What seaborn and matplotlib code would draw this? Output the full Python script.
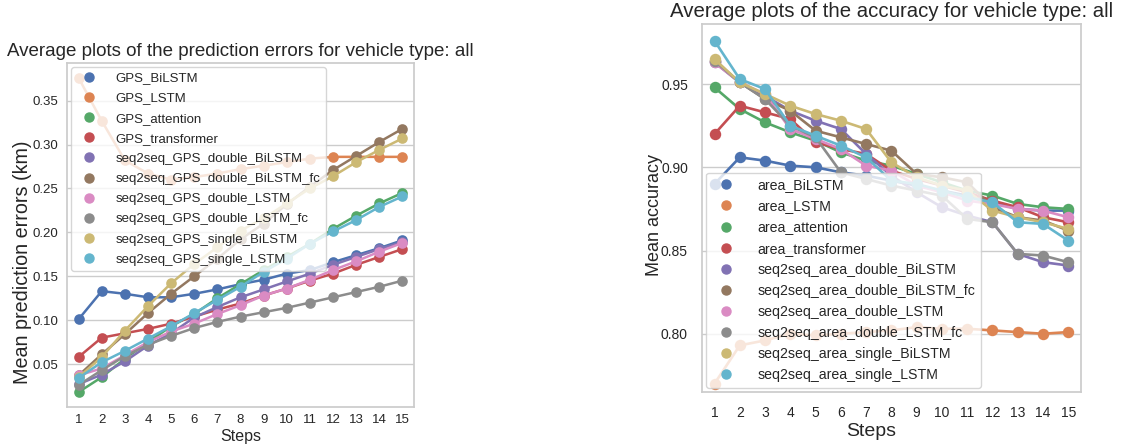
import numpy as np
import pandas as pd
import matplotlib
matplotlib.use("Agg")
import matplotlib.pyplot as plt
import seaborn as sns
from matplotlib.lines import Line2D

steps = list(range(1, 16))

gps_models = ["GPS_BiLSTM", "GPS_LSTM", "GPS_attention", "GPS_transformer",
              "seq2seq_GPS_double_BiLSTM", "seq2seq_GPS_double_BiLSTM_fc",
              "seq2seq_GPS_double_LSTM", "seq2seq_GPS_double_LSTM_fc",
              "seq2seq_GPS_single_BiLSTM", "seq2seq_GPS_single_LSTM"]

gps_bilstm = [0.101, 0.133, 0.130, 0.126, 0.126, 0.130, 0.135, 0.141, 0.146, 0.153, 0.157, 0.166, 0.174, 0.182, 0.191]
gps_lstm = [0.376, 0.327, 0.282, 0.267, 0.260, 0.263, 0.267, 0.272, 0.276, 0.280, 0.284, 0.286, 0.286, 0.286, 0.286]
gps_attention = [0.018, 0.035, 0.056, 0.075, 0.093, 0.107, 0.125, 0.141, 0.157, 0.172, 0.187, 0.204, 0.219, 0.233, 0.245]
gps_transformer = [0.058, 0.080, 0.085, 0.090, 0.096, 0.104, 0.112, 0.119, 0.128, 0.136, 0.145, 0.153, 0.163, 0.172, 0.181]
s2s_gps_double_bilstm = [0.027, 0.038, 0.053, 0.071, 0.085, 0.103, 0.115, 0.126, 0.135, 0.144, 0.153, 0.163, 0.172, 0.181, 0.189]
s2s_gps_double_bilstm_fc = [0.037, 0.061, 0.084, 0.108, 0.130, 0.150, 0.170, 0.192, 0.210, 0.232, 0.252, 0.271, 0.287, 0.303, 0.318]
s2s_gps_double_lstm = [0.037, 0.045, 0.060, 0.075, 0.087, 0.096, 0.107, 0.117, 0.128, 0.136, 0.146, 0.157, 0.167, 0.178, 0.188]
s2s_gps_double_lstm_fc = [0.026, 0.043, 0.059, 0.072, 0.082, 0.091, 0.098, 0.104, 0.109, 0.114, 0.120, 0.126, 0.132, 0.138, 0.145]
s2s_gps_single_bilstm = [0.035, 0.058, 0.088, 0.116, 0.142, 0.164, 0.183, 0.202, 0.216, 0.233, 0.250, 0.264, 0.280, 0.294, 0.307]
s2s_gps_single_lstm = [0.034, 0.052, 0.065, 0.079, 0.093, 0.108, 0.123, 0.138, 0.155, 0.170, 0.187, 0.201, 0.214, 0.229, 0.241]

area_models = ["area_BiLSTM", "area_LSTM", "area_attention", "area_transformer",
               "seq2seq_area_double_BiLSTM", "seq2seq_area_double_BiLSTM_fc",
               "seq2seq_area_double_LSTM", "seq2seq_area_double_LSTM_fc",
               "seq2seq_area_single_BiLSTM", "seq2seq_area_single_LSTM"]

area_bilstm = [0.890, 0.906, 0.904, 0.901, 0.900, 0.897, 0.895, 0.892, 0.889, 0.886, 0.883, 0.879, 0.875, 0.874, 0.874]
area_lstm = [0.770, 0.793, 0.796, 0.800, 0.799, 0.800, 0.801, 0.802, 0.804, 0.803, 0.803, 0.802, 0.801, 0.800, 0.801]
area_attention = [0.948, 0.935, 0.927, 0.921, 0.916, 0.909, 0.904, 0.901, 0.896, 0.891, 0.886, 0.883, 0.878, 0.876, 0.875]
area_transformer = [0.920, 0.937, 0.933, 0.929, 0.915, 0.911, 0.908, 0.898, 0.893, 0.889, 0.885, 0.880, 0.876, 0.870, 0.867]
s2s_area_double_bilstm = [0.963, 0.951, 0.943, 0.934, 0.928, 0.923, 0.908, 0.895, 0.885, 0.876, 0.871, 0.867, 0.848, 0.843, 0.841]
s2s_area_double_bilstm_fc = [0.964, 0.951, 0.941, 0.934, 0.922, 0.918, 0.914, 0.910, 0.896, 0.894, 0.891, 0.876, 0.870, 0.868, 0.862]
s2s_area_double_lstm = [0.963, 0.951, 0.944, 0.923, 0.917, 0.911, 0.901, 0.898, 0.889, 0.885, 0.880, 0.878, 0.875, 0.874, 0.870]
s2s_area_double_lstm_fc = [0.964, 0.951, 0.941, 0.925, 0.918, 0.897, 0.893, 0.889, 0.886, 0.883, 0.869, 0.867, 0.848, 0.847, 0.843]
s2s_area_single_bilstm = [0.965, 0.951, 0.944, 0.937, 0.932, 0.928, 0.923, 0.903, 0.894, 0.889, 0.886, 0.874, 0.870, 0.867, 0.863]
s2s_area_single_lstm = [0.976, 0.953, 0.947, 0.925, 0.919, 0.913, 0.906, 0.892, 0.890, 0.886, 0.882, 0.879, 0.867, 0.866, 0.856]

gps_values = [gps_bilstm, gps_lstm, gps_attention, gps_transformer,
              s2s_gps_double_bilstm, s2s_gps_double_bilstm_fc, s2s_gps_double_lstm,
              s2s_gps_double_lstm_fc, s2s_gps_single_bilstm, s2s_gps_single_lstm]
area_values = [area_bilstm, area_lstm, area_attention, area_transformer,
               s2s_area_double_bilstm, s2s_area_double_bilstm_fc, s2s_area_double_lstm,
               s2s_area_double_lstm_fc, s2s_area_single_bilstm, s2s_area_single_lstm]


def long_df(models, values, col):
    rows = []
    for m, vals in zip(models, values):
        for s, v in zip(steps, vals):
            rows.append({"Steps": s, col: v, "model": m})
    return pd.DataFrame(rows)


df_gps = long_df(gps_models, gps_values, "err")
df_area = long_df(area_models, area_values, "acc")

sns.set_theme(style="whitegrid")
plt.rcParams["font.family"] = ["Liberation Sans", "DejaVu Sans"]

palette = sns.color_palette("deep", 10)

fig = plt.figure(figsize=(11.23, 4.48), dpi=100)
ax1 = fig.add_axes([0.0597, 0.0915, 0.309, 0.768])
ax2 = fig.add_axes([0.625, 0.125, 0.3375, 0.821])


def draw(ax, df, ycol, models, title, ylabel, fs_title, fs_xlabel, fs_ylabel,
         fs_tick, fs_leg, loc, ms, lw, lspace, hpad):
    sns.pointplot(data=df, x="Steps", y=ycol, hue="model", hue_order=models,
                  palette=palette, errorbar=None, markersize=ms, linewidth=lw,
                  legend=False, ax=ax)
    ax.set_title(title, fontsize=fs_title, pad=5)
    ax.set_xlabel("Steps", fontsize=fs_xlabel, labelpad=2)
    ax.set_ylabel(ylabel, fontsize=fs_ylabel)
    ax.tick_params(labelsize=fs_tick)
    handles = [Line2D([], [], marker="o", linestyle="", color=c, markersize=6.5)
               for c in palette]
    ax.legend(handles, models, loc=loc, fontsize=fs_leg,
              handletextpad=hpad, labelspacing=lspace, borderaxespad=0.3)


draw(ax1, df_gps, "err", gps_models,
     "Average plots of the prediction errors for vehicle type: all",
     "Mean prediction errors (km)", 13.5, 11.5, 14.2, 9.5, 9.5,
     "upper left", 6.3, 1.8, 0.6, 1.0)
ax1.set_ylim(0.001, 0.393)
ax1.set_yticks([0.05, 0.10, 0.15, 0.20, 0.25, 0.30, 0.35])
ax1.tick_params(axis="x", length=0, pad=5)
ax1.tick_params(axis="y", length=0, pad=6)
ax1.yaxis.set_label_coords(-0.101, 0.42)

draw(ax2, df_area, "acc", area_models,
     "Average plots of the accuracy for vehicle type: all",
     "Mean accuracy", 14.7, 14, 13, 10, 10.2,
     "lower left", 6.8, 1.9, 0.5, 1.2)
ax2.set_ylim(0.765, 0.986)
ax2.set_yticks([0.80, 0.85, 0.90, 0.95])
ax2.tick_params(axis="x", length=0, pad=10)
ax2.tick_params(axis="y", length=0, pad=10)
ax2.xaxis.set_label_coords(0.446, -0.085)
ax2.yaxis.set_label_coords(-0.103, 0.481)

fig.savefig("out.png", dpi=100)
